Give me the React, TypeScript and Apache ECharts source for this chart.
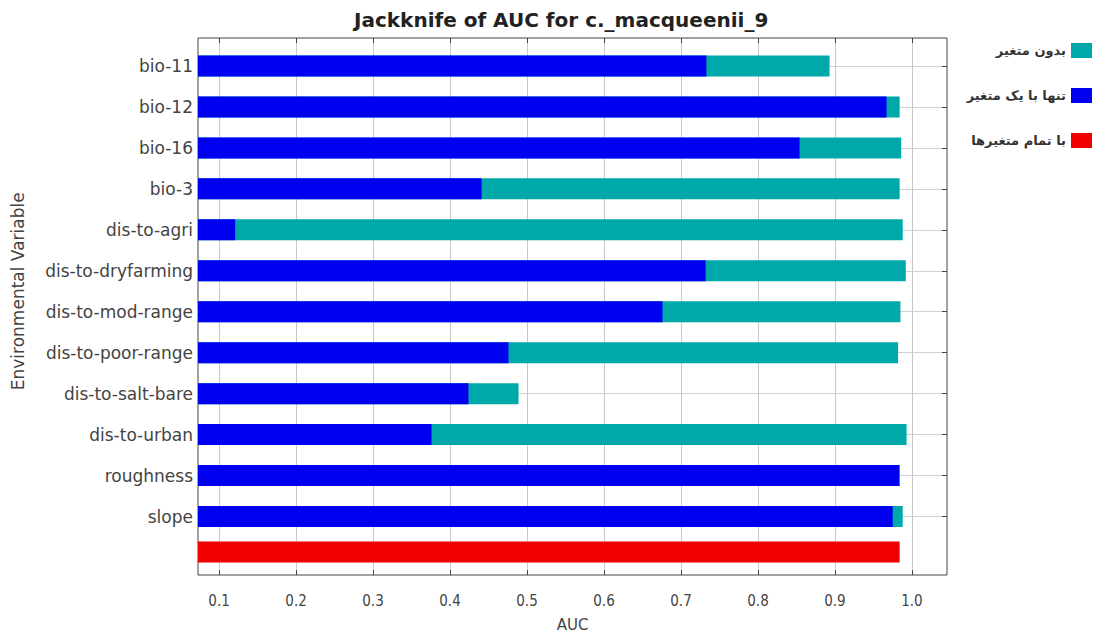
import React, { useEffect, useRef } from "react";
import * as echarts from "echarts";

const categories = [
  "bio-11", "bio-12", "bio-16", "bio-3", "dis-to-agri", "dis-to-dryfarming",
  "dis-to-mod-range", "dis-to-poor-range", "dis-to-salt-bare", "dis-to-urban",
  "roughness", "slope",
];
const withoutVar = [0.893, 0.984, 0.986, 0.984, 0.988, 0.992, 0.985, 0.982, 0.489, 0.993, 0.983, 0.988];
const onlyVar = [0.733, 0.967, 0.854, 0.441, 0.121, 0.732, 0.676, 0.476, 0.424, 0.376, 0.984, 0.975];
const allVars = [0.984];
const tickValues = [0.1, 0.2, 0.3, 0.4, 0.5, 0.6, 0.7, 0.8, 0.9, 1.0];
const legendNames = ["بدون متغیر", "تنها با یک متغیر", "با تمام متغیرها"];

const X_MIN = 0.0727;
const X_MAX = 1.0455;

export default function App() {
  const ref = useRef<HTMLDivElement>(null);
  useEffect(() => {
    const chart = echarts.init(ref.current!, null, { renderer: "svg" });
    const font = "DejaVu Sans";
    const hiddenX = (gridIndex: number) => ({
      type: "value", gridIndex, min: X_MIN, max: X_MAX, show: false,
      splitLine: { show: false },
    });
    chart.setOption({
      animation: false,
      backgroundColor: "#ffffff",
      title: {
        text: "Jackknife of AUC for c._macqueenii_9",
        left: 349,
        top: 5,
        textStyle: { fontFamily: font, fontSize: 20, fontWeight: "bold", color: "#222" },
      },
      legend: {
        orient: "vertical",
        right: 5,
        top: 38,
        itemGap: 30,
        align: "right",
        itemWidth: 21,
        itemHeight: 15,
        icon: "rect",
        textStyle: { fontFamily: font, fontSize: 13, fontWeight: "bold", color: "#333" },
        data: legendNames,
      },
      grid: [
        { left: 198, right: 155, top: 38, bottom: 59, show: true, borderColor: "#444", borderWidth: 1, backgroundColor: "#fff" },
        { left: 198, right: 155, top: 66, height: 450.5 },
        { left: 198, right: 155, top: 532, height: 40 },
      ],
      xAxis: [
        {
          type: "value",
          gridIndex: 0,
          min: X_MIN,
          max: X_MAX,
          position: "bottom",
          name: "AUC",
          nameLocation: "middle",
          nameGap: 42,
          nameTextStyle: { fontFamily: font, fontSize: 15, color: "#444" },
          axisLine: { show: false },
          axisTick: { show: true, inside: true, length: 5, customValues: tickValues, lineStyle: { color: "#444" } },
          axisLabel: {
            customValues: tickValues,
            margin: 18,
            fontFamily: "DejaVu Sans Condensed",
            fontSize: 15,
            color: "#444",
            formatter: (v: number) => v.toFixed(1),
          },
          splitLine: { show: true, lineStyle: { color: "#c8c8c8", width: 1 } },
        },
        {
          type: "value",
          gridIndex: 0,
          min: X_MIN,
          max: X_MAX,
          position: "top",
          axisLine: { show: false },
          axisTick: { show: true, inside: true, length: 5, customValues: tickValues, lineStyle: { color: "#444" } },
          axisLabel: { show: false },
          splitLine: { show: false },
        },
        hiddenX(1),
        hiddenX(2),
      ],
      yAxis: [
        { type: "value", gridIndex: 0, show: false, splitLine: { show: false } },
        {
          type: "category",
          gridIndex: 1,
          inverse: true,
          boundaryGap: false,
          data: categories,
          name: "Environmental Variable",
          nameLocation: "middle",
          nameGap: 172,
          nameRotate: 90,
          nameTextStyle: { fontFamily: font, fontSize: 17, color: "#444" },
          axisLine: { show: false },
          axisTick: { show: false },
          axisLabel: { margin: 5, fontFamily: font, fontSize: 17, color: "#444", interval: 0 },
          splitLine: { show: true, interval: 0, lineStyle: { color: "#d0d0d0", width: 1 } },
        },
        {
          type: "category",
          gridIndex: 1,
          inverse: true,
          boundaryGap: false,
          position: "right",
          data: categories,
          axisLine: { show: false },
          axisTick: { show: true, inside: true, length: 5, interval: 0, lineStyle: { color: "#444" } },
          axisLabel: { show: false },
          splitLine: { show: false },
        },
        {
          type: "category",
          gridIndex: 2,
          data: [""],
          axisLine: { show: false },
          axisTick: { show: false },
          axisLabel: { show: false },
          splitLine: { show: false },
        },
      ],
      series: [
        {
          name: legendNames[0],
          type: "bar",
          xAxisIndex: 2,
          yAxisIndex: 1,
          data: withoutVar,
          barWidth: 21,
          barGap: "-100%",
          itemStyle: { color: "#00A9A9" },
        },
        {
          name: legendNames[1],
          type: "bar",
          xAxisIndex: 2,
          yAxisIndex: 1,
          data: onlyVar,
          barWidth: 21,
          barGap: "-100%",
          itemStyle: { color: "#0000F0" },
        },
        {
          name: legendNames[2],
          type: "bar",
          xAxisIndex: 3,
          yAxisIndex: 3,
          data: allVars,
          barWidth: 21,
          itemStyle: { color: "#F00000" },
        },
      ],
    });
    return () => chart.dispose();
  }, []);
  return <div ref={ref} style={{ width: 1102, height: 637, position: "absolute", left: 0, top: 0 }} />;
}
